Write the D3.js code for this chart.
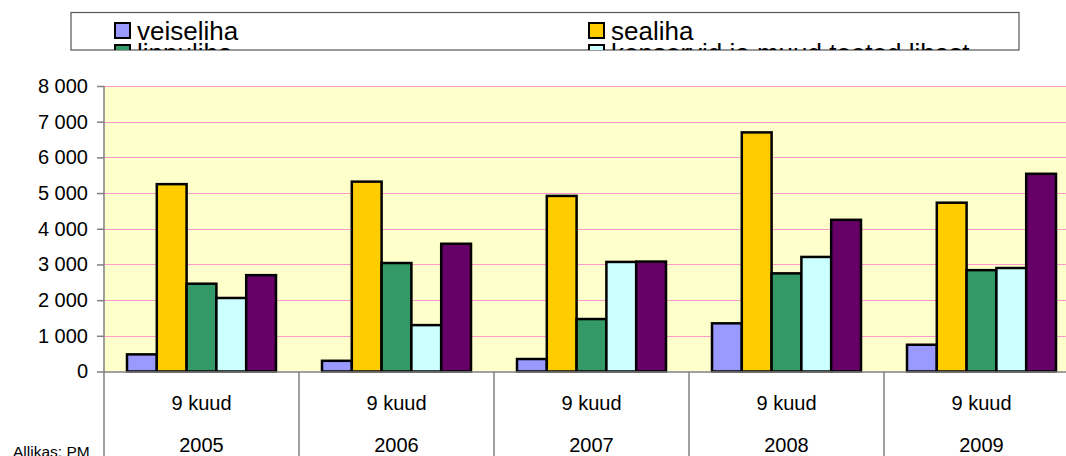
<!DOCTYPE html>
<html>
<head>
<meta charset="utf-8">
<script src="https://cdn.jsdelivr.net/npm/d3@7"></script>
<style>
  html, body { margin: 0; padding: 0; background: #fff; }
  svg { display: block; font-family: "Liberation Sans", Arial, sans-serif; }
</style>
</head>
<body>
<svg id="chart" width="1066" height="456"></svg>
<script>
const years = ["2005", "2006", "2007", "2008", "2009"];
const periods = ["9 kuud", "9 kuud", "9 kuud", "9 kuud", "9 kuud"];
const seriesNames = ["veiseliha", "sealiha", "linnuliha", "konservid ja muud tooted lihast", "muu liha"];
const seriesColors = ["#9999FF", "#FFCC00", "#339966", "#CCFFFF", "#660066"];
const veiseliha = [480, 300, 350, 1350, 750];
const sealiha = [5250, 5320, 4920, 6700, 4730];
const linnuliha = [2460, 3040, 1470, 2750, 2840];
const konservid = [2060, 1300, 3070, 3210, 2900];
const muu = [2700, 3580, 3080, 4250, 5540];
const yTicks = [0, 1000, 2000, 3000, 4000, 5000, 6000, 7000, 8000];
const sourceText = "Allikas: PM";

const seriesValues = [veiseliha, sealiha, linnuliha, konservid, muu];

const svg = d3.select("#chart");
const pLeft = 104, pTop = 86, pBottom = 371.5, catW = 195;
const pRight = pLeft + catW * years.length;

const x = d3.scaleBand().domain(years).range([pLeft, pRight]).padding(0);
const xs = d3.scaleBand().domain(d3.range(seriesNames.length)).range([23, 172]).padding(0);
const y = d3.scaleLinear().domain([0, 8000]).range([pBottom, pTop]);

// plot background
svg.append("rect").attr("x", pLeft).attr("y", pTop)
  .attr("width", pRight - pLeft).attr("height", pBottom - pTop)
  .attr("fill", "#FFFFCC");

// gridlines
svg.append("g").selectAll("line").data(yTicks.filter(d => d > 0)).join("line")
  .attr("x1", pLeft).attr("x2", pRight)
  .attr("y1", d => Math.round(y(d)) + 0.5).attr("y2", d => Math.round(y(d)) + 0.5)
  .attr("stroke", "#FF99CC").attr("stroke-width", 1);

// y axis
const yAxis = d3.axisLeft(y).tickValues(yTicks).tickSize(7).tickPadding(9)
  .tickFormat(d => d3.format(",")(d).replace(/,/g, " "));
const yg = svg.append("g").attr("transform", `translate(${pLeft},0)`).call(yAxis);
yg.select(".domain").remove();
yg.selectAll(".tick line").attr("stroke", "#808080").attr("stroke-width", 1.5);
yg.selectAll(".tick text").attr("font-size", 20).attr("fill", "#000")
  .attr("font-family", "'Liberation Sans', Arial, sans-serif");

// bars
const groups = svg.append("g").selectAll("g").data(years).join("g")
  .attr("transform", d => `translate(${x(d)},0)`);
groups.selectAll("rect").data((d, i) => seriesValues.map((s, k) => ({ k, v: s[i] }))).join("rect")
  .attr("x", d => xs(d.k))
  .attr("width", xs.bandwidth())
  .attr("y", d => y(d.v))
  .attr("height", d => pBottom - y(d.v))
  .attr("fill", d => seriesColors[d.k])
  .attr("stroke", "#000").attr("stroke-width", 2.5);

// axes lines
svg.append("line").attr("x1", pLeft).attr("x2", 1066).attr("y1", pBottom + 0.5).attr("y2", pBottom + 0.5)
  .attr("stroke", "#808080").attr("stroke-width", 1.5);
svg.append("line").attr("x1", pLeft).attr("x2", pLeft).attr("y1", pTop).attr("y2", 456)
  .attr("stroke", "#808080").attr("stroke-width", 1.5);

// category dividers
const dividers = years.slice(1).map(d => x(d));
svg.append("g").selectAll("line").data(dividers).join("line")
  .attr("x1", d => d).attr("x2", d => d).attr("y1", pBottom).attr("y2", 456)
  .attr("stroke", "#808080").attr("stroke-width", 1.5);

// category labels
svg.append("g").selectAll("text").data(periods).join("text")
  .attr("x", (d, i) => x(years[i]) + catW / 2).attr("y", 410)
  .attr("text-anchor", "middle").attr("font-size", 20).attr("fill", "#000")
  .text(d => d);
svg.append("g").selectAll("text").data(years).join("text")
  .attr("x", d => x(d) + catW / 2).attr("y", 452)
  .attr("text-anchor", "middle").attr("font-size", 20).attr("fill", "#000")
  .text(d => d);

// source
svg.append("text").attr("x", 13).attr("y", 456.5).attr("font-size", 15.5).attr("fill", "#000")
  .text(sourceText);

// legend
const lgX = 71, lgY = 12.5, lgW = 948, lgH = 37.5;
svg.append("clipPath").attr("id", "lgclip").append("rect")
  .attr("x", lgX).attr("y", lgY).attr("width", lgW).attr("height", lgH);
svg.append("rect").attr("x", lgX).attr("y", lgY).attr("width", lgW).attr("height", lgH)
  .attr("fill", "#fff").attr("stroke", "#555").attr("stroke-width", 1.2);
const lg = svg.append("g").attr("clip-path", "url(#lgclip)");
const colX = [115, 589];
const item = lg.selectAll("g").data(seriesNames).join("g")
  .attr("transform", (d, i) => `translate(${colX[i % 2]},${23 + Math.floor(i / 2) * 22})`);
item.append("rect").attr("x", 0).attr("y", 0).attr("width", 15).attr("height", 15)
  .attr("fill", (d, i) => seriesColors[i]).attr("stroke", "#000").attr("stroke-width", 2);
item.append("text").attr("x", 22).attr("y", 16.5).attr("font-size", 26).attr("fill", "#000")
  .text(d => d);
</script>
</body>
</html>
